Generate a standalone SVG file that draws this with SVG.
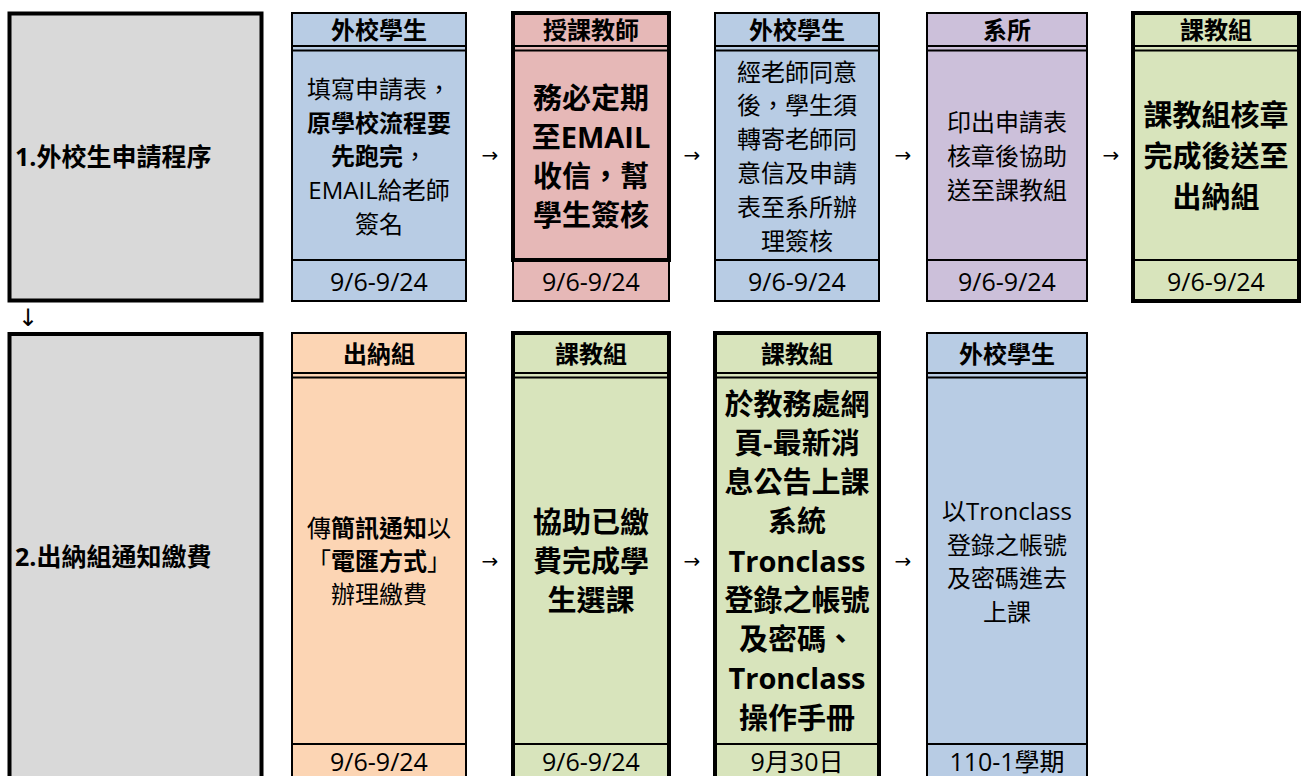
<svg xmlns="http://www.w3.org/2000/svg" width="1302" height="776" viewBox="0 0 1302 776" xml:lang="zh-TW" lang="zh-TW">
<style>
text{font-family:"Open Sans","Noto Sans CJK TC",sans-serif;fill:#000;text-anchor:middle;dominant-baseline:central}
.t{font-size:24px}
.d{font-size:25px}
.b{font-weight:bold}
.big{font-size:29px;font-weight:bold}
.lab{font-size:25px;font-weight:bold;text-anchor:start}
.thin{stroke:#000;stroke-width:2}
.thick{stroke:#000;stroke-width:4}
.ln{stroke:#000;stroke-width:2}
.arr{font-family:"DejaVu Sans",sans-serif;font-size:20px}
.darr{font-family:"DejaVu Sans",sans-serif;font-size:24px}
</style>
<rect width="1302" height="776" fill="#fff"/>

<g id="stage1">
<rect x="9.5" y="13.5" width="252" height="287" fill="#d9d9d9" class="thick"/>
<text class="lab" x="15" y="156">1.外校生申請程序</text>
</g>
<g id="stage2">
<rect x="9.5" y="334" width="252" height="460" fill="#d9d9d9" class="thick"/>
<text class="lab" x="15" y="556">2.出納組通知繳費</text>
</g>

<g id="t1">
<rect x="292" y="13" width="174" height="288" fill="#b8cce4" class="thin"/>
<line x1="292" y1="46" x2="466" y2="46" class="ln"/><line x1="292" y1="50.5" x2="466" y2="50.5" class="ln"/><line x1="292" y1="260" x2="466" y2="260" class="ln"/>
<text class="t b" x="379" y="29">外校學生</text>
<text class="t" x="379" y="88">填寫申請表，</text>
<text class="t b" x="379" y="122">原學校流程要</text>
<text class="t" x="379" y="155"><tspan class="b">先跑完</tspan>，</text>
<text class="t" x="379" y="189">EMAIL給老師</text>
<text class="t" x="379" y="223">簽名</text>
<text class="d" x="379" y="281">9/6-9/24</text>
</g>

<g id="t2">
<rect x="513" y="13" width="156" height="288" fill="#e6b8b7"/>
<rect x="513" y="260" width="156" height="41" fill="none" class="thin"/>
<rect x="513" y="13" width="156" height="247" fill="none" class="thick"/>
<line x1="513" y1="46" x2="669" y2="46" class="ln"/><line x1="513" y1="50.5" x2="669" y2="50.5" class="ln"/>
<text class="t b" x="591" y="29">授課教師</text>
<text class="big" x="591" y="97">務必定期</text>
<text class="big" x="591" y="136">至EMAIL</text>
<text class="big" x="591" y="175">收信，幫</text>
<text class="big" x="591" y="214">學生簽核</text>
<text class="d" x="591" y="281">9/6-9/24</text>
</g>

<g id="t3">
<rect x="715" y="13" width="164" height="288" fill="#b8cce4" class="thin"/>
<line x1="715" y1="46" x2="879" y2="46" class="ln"/><line x1="715" y1="50.5" x2="879" y2="50.5" class="ln"/><line x1="715" y1="260" x2="879" y2="260" class="ln"/>
<text class="t b" x="797" y="29">外校學生</text>
<text class="t" x="797" y="71">經老師同意</text>
<text class="t" x="797" y="104">後，學生須</text>
<text class="t" x="797" y="138">轉寄老師同</text>
<text class="t" x="797" y="172">意信及申請</text>
<text class="t" x="797" y="206">表至系所辦</text>
<text class="t" x="797" y="240">理簽核</text>
<text class="d" x="797" y="281">9/6-9/24</text>
</g>

<g id="t4">
<rect x="927" y="13" width="160" height="288" fill="#ccc0da" class="thin"/>
<line x1="927" y1="46" x2="1087" y2="46" class="ln"/><line x1="927" y1="50.5" x2="1087" y2="50.5" class="ln"/><line x1="927" y1="260" x2="1087" y2="260" class="ln"/>
<text class="t b" x="1007" y="29">系所</text>
<text class="t" x="1007" y="121">印出申請表</text>
<text class="t" x="1007" y="155">核章後協助</text>
<text class="t" x="1007" y="189">送至課教組</text>
<text class="d" x="1007" y="281">9/6-9/24</text>
</g>

<g id="t5">
<rect x="1133" y="13" width="166" height="288" fill="#d8e4bc" class="thick"/>
<line x1="1133" y1="46" x2="1299" y2="46" class="ln"/><line x1="1133" y1="50.5" x2="1299" y2="50.5" class="ln"/><line x1="1133" y1="260" x2="1299" y2="260" class="ln"/>
<text class="t b" x="1216" y="29">課教組</text>
<text class="big" x="1216" y="114">課教組核章</text>
<text class="big" x="1216" y="155">完成後送至</text>
<text class="big" x="1216" y="196">出納組</text>
<text class="d" x="1216" y="281">9/6-9/24</text>
</g>

<g id="b1">
<rect x="292" y="333" width="174" height="460" fill="#fcd5b4" class="thin"/>
<line x1="292" y1="373" x2="466" y2="373" class="ln"/><line x1="292" y1="377.5" x2="466" y2="377.5" class="ln"/><line x1="292" y1="744" x2="466" y2="744" class="ln"/>
<text class="t b" x="379" y="353">出納組</text>
<text class="t" x="379" y="527">傳<tspan class="b">簡訊通知</tspan>以</text>
<text class="t" x="379" y="560">「<tspan class="b">電匯方式</tspan>」</text>
<text class="t" x="379" y="593">辦理繳費</text>
<text class="d" x="379" y="761">9/6-9/24</text>
</g>

<g id="b2">
<rect x="513" y="333" width="156" height="460" fill="#d8e4bc" class="thick"/>
<line x1="513" y1="373" x2="669" y2="373" class="ln"/><line x1="513" y1="377.5" x2="669" y2="377.5" class="ln"/><line x1="513" y1="744" x2="669" y2="744" class="ln"/>
<text class="t b" x="591" y="353">課教組</text>
<text class="big" x="591" y="521">協助已繳</text>
<text class="big" x="591" y="560">費完成學</text>
<text class="big" x="591" y="599">生選課</text>
<text class="d" x="591" y="761">9/6-9/24</text>
</g>

<g id="b3">
<rect x="715" y="333" width="164" height="460" fill="#d8e4bc" class="thick"/>
<line x1="715" y1="373" x2="879" y2="373" class="ln"/><line x1="715" y1="377.5" x2="879" y2="377.5" class="ln"/><line x1="715" y1="744" x2="879" y2="744" class="ln"/>
<text class="t b" x="797" y="353">課教組</text>
<text class="big" x="797" y="403">於教務處網</text>
<text class="big" x="797" y="442">頁-最新消</text>
<text class="big" x="797" y="481">息公告上課</text>
<text class="big" x="797" y="520">系統</text>
<text class="big" x="797" y="560">Tronclass</text>
<text class="big" x="797" y="599">登錄之帳號</text>
<text class="big" x="797" y="638">及密碼、</text>
<text class="big" x="797" y="677">Tronclass</text>
<text class="big" x="797" y="717">操作手冊</text>
<text class="d" x="797" y="761">9月30日</text>
</g>

<g id="b4">
<rect x="927" y="333" width="160" height="460" fill="#b8cce4" class="thin"/>
<line x1="927" y1="373" x2="1087" y2="373" class="ln"/><line x1="927" y1="377.5" x2="1087" y2="377.5" class="ln"/><line x1="927" y1="744" x2="1087" y2="744" class="ln"/>
<text class="t b" x="1007" y="353">外校學生</text>
<text class="t" x="1007" y="510">以Tronclass</text>
<text class="t" x="1007" y="544">登錄之帳號</text>
<text class="t" x="1007" y="577">及密碼進去</text>
<text class="t" x="1007" y="611">上課</text>
<text class="d" x="1007" y="761">110-1學期</text>
</g>

<g id="connectors">
<text class="arr" x="490" y="155">→</text>
<text class="arr" x="692" y="155">→</text>
<text class="arr" x="903" y="155">→</text>
<text class="arr" x="1111" y="155">→</text>
<text class="darr" x="28" y="318">↓</text>
<text class="arr" x="490" y="561">→</text>
<text class="arr" x="692" y="561">→</text>
<text class="arr" x="903" y="561">→</text>
</g>
</svg>
